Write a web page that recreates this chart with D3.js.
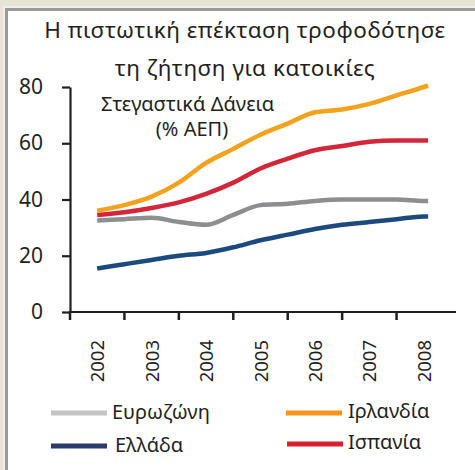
<!DOCTYPE html>
<html>
<head>
<meta charset="utf-8">
<script src="https://cdn.jsdelivr.net/npm/d3@7"></script>
<style>
  html, body { margin: 0; padding: 0; background: #e9e3d6; }
  svg { display: block; }
  text { font-family: "Noto Sans", "Open Sans", sans-serif; fill: #231f20; }
</style>
</head>
<body>
<script>
// ---- data ----
const years = ["2002", "2003", "2004", "2005", "2006", "2007", "2008"];
const periods = [2002, 2002.5, 2003, 2003.5, 2004, 2004.5, 2005, 2005.5, 2006, 2006.5, 2007, 2007.5, 2008, 2008.08];
const eurozone = [32.5, 33, 33.5, 32, 31, 34.5, 38, 38.5, 39.5, 40, 40, 40, 39.5, 39.5];
const ireland  = [36, 38, 41, 46, 53, 58, 63, 67, 71, 72, 74, 77, 80, 80.5];
const greece   = [15.5, 17, 18.5, 20, 21, 23, 25.5, 27.5, 29.5, 31, 32, 33, 34, 34];
const spain    = [34.5, 35.5, 37, 39, 42, 46, 51, 54.5, 57.5, 59, 60.5, 61, 61, 61];
const yTicks = [0, 20, 40, 60, 80];
const titleLines = ["Η πιστωτική επέκταση τροφοδότησε", "τη ζήτηση για κατοικίες"];
const subtitleLines = ["Στεγαστικά Δάνεια", "(% ΑΕΠ)"];
const seriesNames = ["Ευρωζώνη", "Ελλάδα", "Ιρλανδία", "Ισπανία"];
const lineColors = ["#8c8e90", "#1d4a7e", "#f2a21c", "#d2263a"];
const legendColors = ["#c4c4c4", "#2b3a6c", "#f7941d", "#d7222e"];

const W = 475, H = 470;
const svg = d3.select("body").append("svg").attr("width", W).attr("height", H);

// panel
svg.append("rect").attr("x", 3).attr("y", 6).attr("width", W).attr("height", H).attr("fill", "#f3efe6");
svg.append("rect").attr("x", 5).attr("y", 8).attr("width", W).attr("height", H).attr("fill", "#9a9a9c");
svg.append("rect").attr("x", 8).attr("y", 11).attr("width", W).attr("height", H).attr("fill", "#ffffff");

// title
svg.append("g").selectAll("text").data(titleLines).join("text")
  .attr("x", 245).attr("y", (d, i) => 38 + i * 38)
  .attr("text-anchor", "middle").attr("font-size", 22.5)
  .attr("letter-spacing", 0.5)
  .text(d => d);

// scales
const xBand = d3.scaleBand().domain(years).range([70, 451]).padding(0);
const x = d3.scaleLinear()
  .domain([2002, 2008])
  .range([xBand("2002") + xBand.bandwidth() / 2, xBand("2008") + xBand.bandwidth() / 2]);
const y = d3.scaleLinear().domain([0, 80]).range([312, 87]);

// y axis
const yAxis = svg.append("g").attr("transform", "translate(70,0)")
  .call(d3.axisLeft(y).tickValues(yTicks).tickSize(8).tickSizeOuter(0).tickPadding(19));
yAxis.select(".domain").attr("stroke", "#231f20").attr("stroke-width", 2.2);
yAxis.selectAll(".tick line").attr("stroke", "#231f20").attr("stroke-width", 2.2);
yAxis.selectAll(".tick text").attr("font-size", 21).attr("fill", "#231f20")
  .attr("font-family", "'Noto Sans', sans-serif");

// x axis
const xAxisG = svg.append("g").attr("transform", "translate(0,312)");
xAxisG.append("line").attr("x1", 70).attr("x2", 456).attr("y1", 0).attr("y2", 0)
  .attr("stroke", "#231f20").attr("stroke-width", 2.2);
xAxisG.selectAll("line.tk").data(years).join("line").attr("class", "tk")
  .attr("x1", d => xBand(d)).attr("x2", d => xBand(d))
  .attr("y1", -1).attr("y2", 8)
  .attr("stroke", "#231f20").attr("stroke-width", 2.5);
xAxisG.selectAll("text").data(years).join("text")
  .attr("transform", d => `translate(${xBand(d) + xBand.bandwidth() / 2 + 7},28) rotate(-90)`)
  .attr("text-anchor", "end").attr("font-size", 18.5)
  .text(d => d);

// subtitle
svg.append("g").selectAll("text").data(subtitleLines).join("text")
  .attr("x", (d, i) => i === 0 ? 101 : 192)
  .attr("y", (d, i) => 111 + i * 25)
  .attr("text-anchor", (d, i) => i === 0 ? "start" : "middle")
  .attr("font-size", 20)
  .text(d => d);

// lines
const allSeries = [eurozone, greece, ireland, spain];
const line = d3.line().x((d, i) => x(periods[i])).y(d => y(d)).curve(d3.curveMonotoneX);
const drawOrder = [1, 0, 3, 2];
svg.append("g").selectAll("path").data(drawOrder).join("path")
  .attr("d", k => line(allSeries[k]))
  .attr("fill", "none")
  .attr("stroke", k => lineColors[k])
  .attr("stroke-width", 4.5)
  .attr("stroke-linecap", "butt")
  .attr("stroke-linejoin", "round");

// legend
const legendPos = [
  {x: 51, y: 413, tx: 61, ty: 419}, {x: 51, y: 446, tx: 64, ty: 452},
  {x: 286, y: 413, tx: 62, ty: 418}, {x: 287, y: 444, tx: 61, ty: 449}
];
const lg = svg.append("g").selectAll("g").data(seriesNames).join("g")
  .attr("transform", (d, i) => `translate(${legendPos[i].x},${legendPos[i].y})`);
lg.append("line").attr("x1", 0).attr("x2", 56).attr("y1", 0).attr("y2", 0)
  .attr("stroke", (d, i) => legendColors[i]).attr("stroke-width", 5);
lg.append("text")
  .attr("x", (d, i) => legendPos[i].tx)
  .attr("y", (d, i) => legendPos[i].ty - legendPos[i].y)
  .attr("font-size", 20).text(d => d);
</script>
</body>
</html>
